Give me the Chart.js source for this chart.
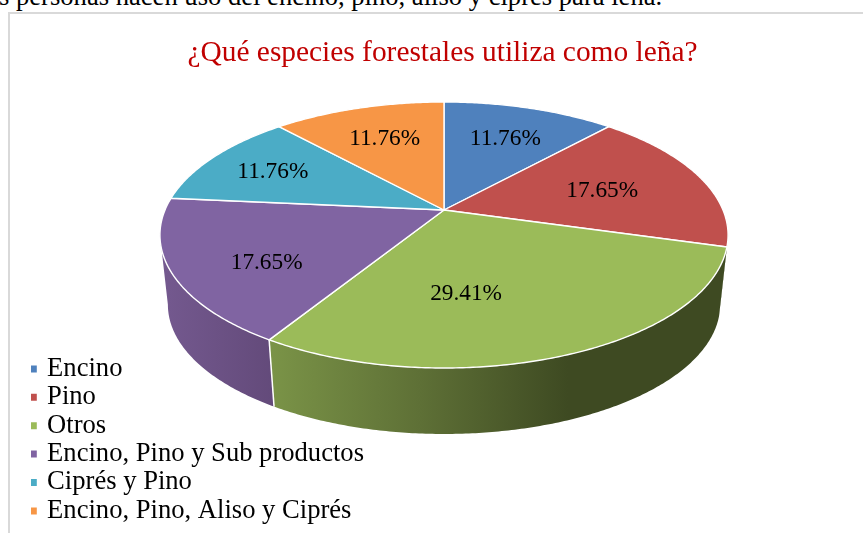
<!DOCTYPE html>
<html lang="es">
<head>
<meta charset="utf-8">
<style>
html,body{margin:0;padding:0;width:863px;height:533px;overflow:hidden;background:#fff}
#intro{position:absolute;left:-1px;top:-19px;white-space:nowrap;font:26.6px/30px "Liberation Serif",serif;color:#000}
#frame{position:absolute;left:8px;top:12px;width:900px;height:600px;box-sizing:border-box;border:2px solid #d9d9d9}
canvas{position:absolute;left:0;top:0}
</style>
<script src="https://cdn.jsdelivr.net/npm/chart.js@4"></script>
</head>
<body>
<div id="intro">s personas hacen uso del encino, pino, aliso y ciprés para leña.</div>
<div id="frame"></div>
<canvas id="c" width="863" height="533"></canvas>
<script>
const chartTitle = '¿Qué especies forestales utiliza como leña?';
const categories = ['Encino', 'Pino', 'Otros', 'Encino, Pino y Sub productos', 'Ciprés y Pino', 'Encino, Pino, Aliso y Ciprés'];
const percentages = [11.76, 17.65, 29.41, 17.65, 11.76, 11.76];
const sliceColors = ['#4f81bd', '#c0504d', '#9bbb59', '#8064a2', '#4bacc6', '#f79646'];
const labelNudges = [[5,-4],[-3,2],[-48,1],[-14,16],[-24,-4],[-3,-4]];

const SERIF = '"Liberation Serif","Times New Roman",serif';
// Perspective view of the disc: apex position, axes, foreshortening, extrusion
const view = {cx:444, cy:210, a:279, b:128.3, c:0.188, rimShift:70.4, rimScale:0.972};
// Part of the rim that faces the viewer (between the two silhouette tangents)
const frontArc = [Math.PI - Math.acos(view.c), Math.PI + Math.acos(view.c)];

function project(theta, f, rim){
  const u = f*Math.sin(theta), v = -f*Math.cos(theta), w = 1 - view.c*v;
  let x = view.a*u/w, y = view.b*v/w;
  if (rim){ x *= view.rimScale; y = y*view.rimScale + view.rimShift; }
  return [view.cx + x, view.cy + y];
}
function arcPoints(t0, t1, rim){
  const n = Math.max(2, Math.ceil(Math.abs(t1-t0)/0.01)), pts = [];
  for (let i=0;i<=n;i++) pts.push(project(t0+(t1-t0)*i/n, 1, rim));
  return pts;
}
function trace(ctx, pts){
  ctx.beginPath();
  pts.forEach((p,i)=> i ? ctx.lineTo(p[0],p[1]) : ctx.moveTo(p[0],p[1]));
  ctx.closePath();
}
function sideFill(ctx, i){
  if (i === 2){
    const g = ctx.createLinearGradient(272,0,568,0);
    g.addColorStop(0,'#7a9347'); g.addColorStop(0.5,'#5e7036'); g.addColorStop(1,'#3e4a22');
    return g;
  }
  if (i === 3){
    const g = ctx.createLinearGradient(162,0,274,0);
    g.addColorStop(0,'#74598f'); g.addColorStop(1,'#634a7a');
    return g;
  }
  return sliceColors[i];
}

const pie3d = {
  id:'pie3d',
  beforeDatasetDraw(chart, args){
    const ctx = chart.ctx;
    const els = chart.getDatasetMeta(args.index).data;
    const angles = els.map(el=>{
      const p = el.getProps(['startAngle','endAngle'], true);
      return [p.startAngle+Math.PI/2, p.endAngle+Math.PI/2];
    });
    ctx.save();
    ctx.lineJoin = 'round';
    // side wall: only the visible stretch of each slice's rim
    angles.forEach(([a0,a1],i)=>{
      const t0 = Math.max(a0,frontArc[0]), t1 = Math.min(a1,frontArc[1]);
      if (t1 <= t0) return;
      trace(ctx,arcPoints(t0,t1,false).concat(arcPoints(t1,t0,true)));
      ctx.fillStyle = i === 1 ? sideFill(ctx,2) : sideFill(ctx,i);
      ctx.fill();
    });
    // visible wall seam between the two front slices
    const s0 = project(angles[2][1],1,false), s1 = project(angles[2][1],1,true);
    ctx.strokeStyle = '#fff'; ctx.lineWidth = 1.5;
    ctx.beginPath(); ctx.moveTo(s0[0],s0[1]); ctx.lineTo(s1[0],s1[1]); ctx.stroke();
    // top face
    angles.forEach(([a0,a1],i)=>{
      trace(ctx,[[view.cx,view.cy]].concat(arcPoints(a0,a1,false)));
      ctx.fillStyle = sliceColors[i];
      ctx.fill();
      ctx.strokeStyle = '#fff'; ctx.lineWidth = 1.4;
      ctx.stroke();
    });
    // value labels
    ctx.fillStyle = '#000';
    ctx.font = '23.3px '+SERIF;
    ctx.textAlign = 'center'; ctx.textBaseline = 'middle';
    angles.forEach(([a0,a1],i)=>{
      const p = project((a0+a1)/2, 0.62, false);
      ctx.fillText(percentages[i].toFixed(2)+'%', p[0]+labelNudges[i][0], p[1]+labelNudges[i][1]);
    });
    ctx.restore();
    return false;
  }
};

new Chart(document.getElementById('c'),{
  type:'pie',
  data:{labels:categories,datasets:[{data:percentages,backgroundColor:sliceColors,borderColor:'#fff'}]},
  options:{
    responsive:false,
    animation:false,
    events:[],
    layout:{padding:{left:31,right:9,top:36,bottom:7}},
    plugins:{
      tooltip:{enabled:false},
      title:{display:true,text:chartTitle,color:'#c00000',
        font:{family:SERIF,size:29.4,weight:'normal',lineHeight:1.2},padding:{top:0,bottom:10}},
      legend:{display:true,position:'left',align:'end',
        labels:{color:'#000',font:{family:SERIF,size:26.6,lineHeight:1},
          usePointStyle:true,pointStyle:'rect',boxWidth:1,boxHeight:9,padding:1.8}}
    }
  },
  plugins:[pie3d]
});
</script>
</body>
</html>
